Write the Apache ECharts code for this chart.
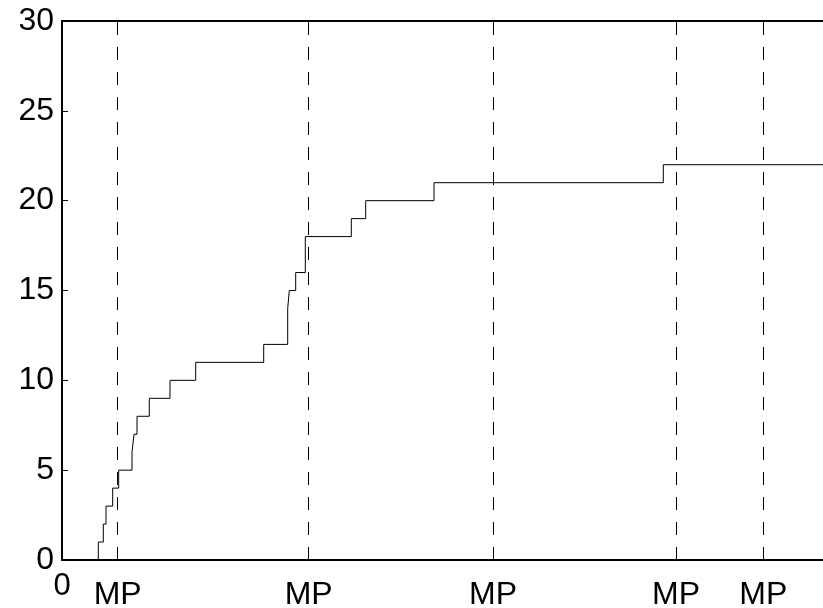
<!DOCTYPE html>
<html>
<head>
<meta charset="utf-8">
<style>
	html, body { margin: 0; padding: 0; background: #fff; }
	#container { width: 823px; height: 608px; }
</style>
<script src="https://cdn.jsdelivr.net/npm/echarts@6/dist/echarts.min.js"></script>
</head>
<body>
<div id="container"></div>
<script>
// x where the count steps up, and the count reached at that x
var stepX = [36.3, 41.3, 44, 50.7, 56.7, 70, 72, 75, 87.3, 108, 133.7, 201.7, 225.7, 227.3, 233.7, 243.3, 289.3, 303.7, 372, 601.3];
var stepY = [1, 2, 3, 4, 5, 6, 7, 8, 9, 10, 11, 12, 14, 15, 16, 18, 19, 20, 21, 22];
var xMax = 761;
// dashed "MP" markers
var mpX = [55.7, 246.7, 431, 614, 701.3];
var yTicks = [0, 5, 10, 15, 20, 25, 30];

loadChart();

function loadChart() {
	var dom = document.getElementById("container");
	var myChart = echarts.init(dom);
	var option = null;

	// build the step points: start on zero, jump at each step, run on to the end
	var points = [[stepX[0], 0]];
	for (var i = 0; i < stepX.length; i++) {
		points.push([stepX[i], stepY[i]]);
	}
	points.push([xMax, stepY[stepY.length - 1]]);

	var font = 'Liberation Sans, Arial, sans-serif';

	option = {
		backgroundColor: '#fff',
		animation: false,
		grid: {
			left: 62,
			top: 21,
			right: 0,
			bottom: 48,
			outerBoundsMode: 'none'
		},
		xAxis: [{
				type: 'value',
				min: 0,
				max: xMax,
				axisLine: {
					lineStyle: {
						color: '#000',
						width: 2
					}
				},
				axisTick: {
					show: false
				},
				splitLine: {
					show: false
				},
				axisLabel: {
					customValues: [0].concat(mpX),
					margin: 11,
					formatter: function (v) {
						return v === 0 ? '{z|0}' : '{m|MP}';
					},
					rich: {
						z: {
							fontSize: 31,
							fontFamily: font,
							color: '#000'
						},
						m: {
							fontSize: 32,
							fontFamily: font,
							color: '#000',
							padding: [8, 0, 0, 0]
						}
					}
				}
			},
			{
				type: 'value',
				position: 'top',
				min: 0,
				max: xMax,
				axisLine: {
					show: true,
					lineStyle: {
						color: '#000',
						width: 2
					}
				},
				axisTick: {
					show: false
				},
				axisLabel: {
					show: false
				},
				splitLine: {
					show: false
				}
			}
		],
		yAxis: {
			type: 'value',
			min: 0,
			max: 30,
			interval: 5,
			axisLine: {
				show: true,
				lineStyle: {
					color: '#000',
					width: 2
				}
			},
			axisTick: {
				show: true,
				inside: true,
				length: 6,
				lineStyle: {
					color: '#000'
				}
			},
			splitLine: {
				show: false
			},
			axisLabel: {
				margin: 8,
				fontSize: 32,
				fontFamily: font,
				color: '#000',
				formatter: function (v) {
					return yTicks.indexOf(v) >= 0 ? String(v) : '';
				}
			}
		},
		series: [{
			type: 'line',
			step: 'end',
			symbol: 'none',
			data: points,
			lineStyle: {
				color: '#000',
				width: 1
			},
			markLine: {
				silent: true,
				symbol: 'none',
				label: {
					show: false
				},
				lineStyle: {
					color: '#000',
					width: 1,
					type: [13, 12]
				},
				data: mpX.map(function (x) {
					return { xAxis: x };
				})
			}
		}]
	};
	if (option && typeof option === "object") {
		myChart.setOption(option, true);
	}
}
</script>
</body>
</html>
